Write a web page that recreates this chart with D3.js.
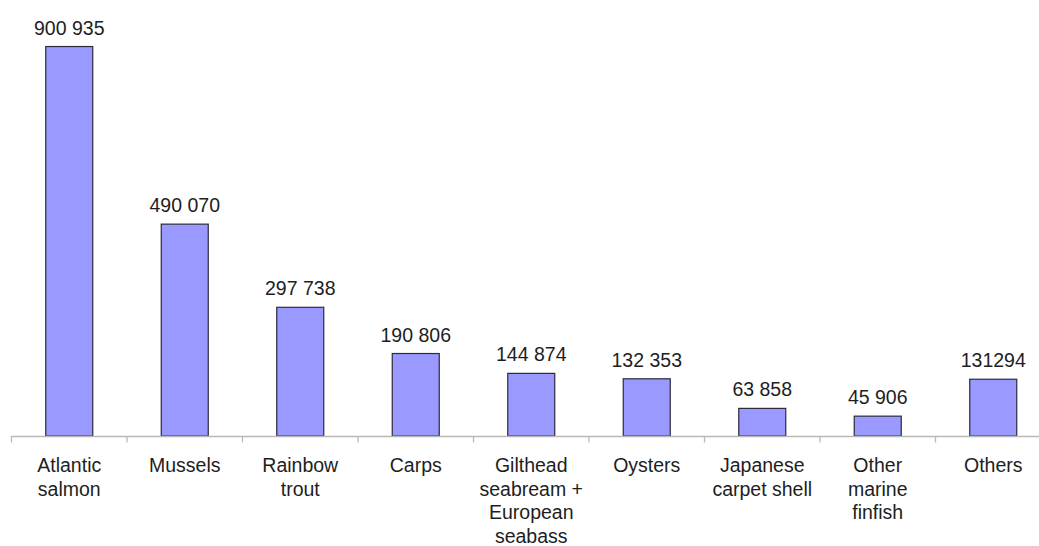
<!DOCTYPE html>
<html>
<head>
<meta charset="utf-8">
<script src="https://cdn.jsdelivr.net/npm/d3@7"></script>
<style>
  html, body { margin: 0; padding: 0; background: #fff; }
  svg { display: block; }
  text { font-family: "Liberation Sans", Arial, Helvetica, sans-serif; fill: #1e1e1e; }
</style>
</head>
<body>
<svg id="chart" width="1039" height="546"></svg>
<script>
// Aquaculture production by species (tonnes)
const categories = [
  "Atlantic salmon", "Mussels", "Rainbow trout", "Carps",
  "Gilthead seabream + European seabass", "Oysters",
  "Japanese carpet shell", "Other marine finfish", "Others"
];
const categoryLines = [
  ["Atlantic", "salmon"],
  ["Mussels"],
  ["Rainbow", "trout"],
  ["Carps"],
  ["Gilthead", "seabream +", "European", "seabass"],
  ["Oysters"],
  ["Japanese", "carpet shell"],
  ["Other", "marine", "finfish"],
  ["Others"]
];
const values = [900935, 490070, 297738, 190806, 144874, 132353, 63858, 45906, 131294];
const valueLabels = ["900 935", "490 070", "297 738", "190 806", "144 874", "132 353", "63 858", "45 906", "131294"];

const svg = d3.select("#chart");
const baseY = 436;

const x = d3.scaleBand()
  .domain(categories)
  .range([11.5, 1051])
  .paddingInner(0.593)
  .paddingOuter(0.2965);

const y = d3.scaleLinear()
  .domain([0, 1000000])
  .range([baseY, 3.7]);

// Bars
svg.append("g").selectAll("rect")
  .data(values)
  .join("rect")
  .attr("x", (d, i) => x(categories[i]))
  .attr("y", d => y(d))
  .attr("width", x.bandwidth())
  .attr("height", d => y(0) - y(d))
  .attr("fill", "#9999ff")
  .attr("stroke", "#2b2b3a")
  .attr("stroke-width", 1.2);

// Value labels above bars
svg.append("g").selectAll("text")
  .data(values)
  .join("text")
  .attr("x", (d, i) => x(categories[i]) + x.bandwidth() / 2)
  .attr("y", d => y(d) - 12)
  .attr("text-anchor", "middle")
  .style("font-size", "19.5px")
  .text((d, i) => valueLabels[i]);

// Category axis: baseline and boundary ticks
const axis = svg.append("g");
const r = x.range();
axis.append("line")
  .attr("x1", r[0]).attr("x2", r[1])
  .attr("y1", baseY + 0.5).attr("y2", baseY + 0.5)
  .attr("stroke", "#b8b8b8").attr("stroke-width", 1.3);
axis.selectAll("line.tick")
  .data(d3.range(categories.length + 1))
  .join("line")
  .attr("class", "tick")
  .attr("x1", i => r[0] + i * x.step())
  .attr("x2", i => r[0] + i * x.step())
  .attr("y1", baseY).attr("y2", baseY + 6.5)
  .attr("stroke", "#b8b8b8").attr("stroke-width", 1.3);

// Category labels, wrapped over several lines
const labels = svg.append("g").selectAll("text")
  .data(categories)
  .join("text")
  .attr("x", d => x(d) + x.bandwidth() / 2)
  .attr("y", 472)
  .attr("text-anchor", "middle")
  .style("font-size", "19.5px");
labels.selectAll("tspan")
  .data((d, i) => categoryLines[i])
  .join("tspan")
  .attr("x", function() { return this.parentNode.getAttribute("x"); })
  .attr("dy", (d, j) => j === 0 ? 0 : 23.5)
  .text(d => d);
</script>
</body>
</html>
